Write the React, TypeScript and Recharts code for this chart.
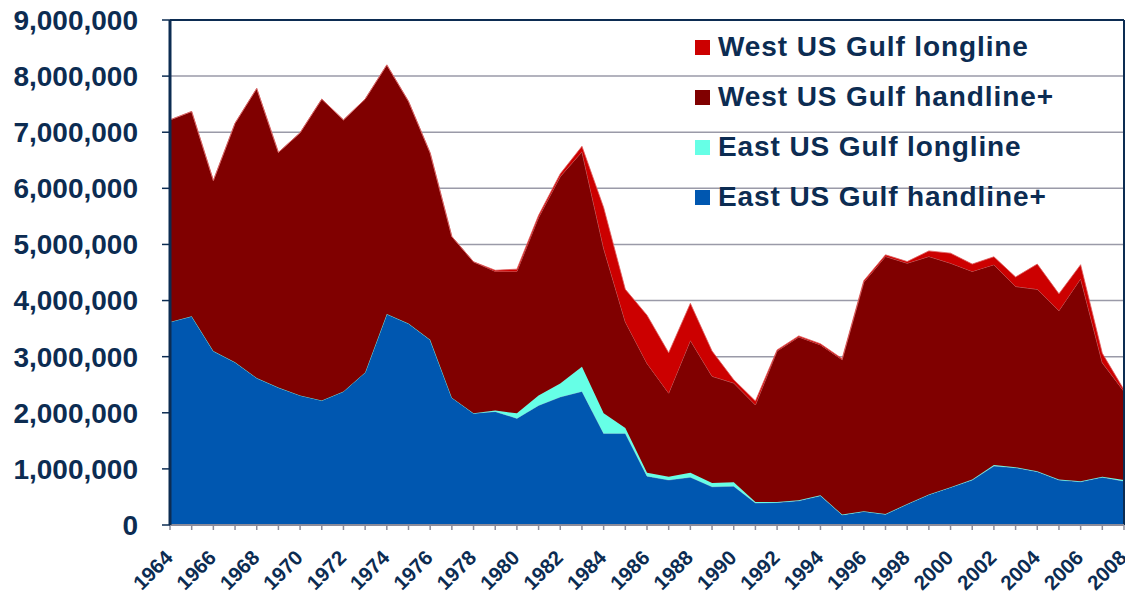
import React from 'react';
import { AreaChart, Area, XAxis, YAxis, CartesianGrid, Legend, ReferenceLine } from 'recharts';

const years = [
  1964, 1965, 1966, 1967, 1968, 1969, 1970, 1971, 1972, 1973, 1974, 1975, 1976, 1977, 1978,
  1979, 1980, 1981, 1982, 1983, 1984, 1985, 1986, 1987, 1988, 1989, 1990, 1991, 1992, 1993,
  1994, 1995, 1996, 1997, 1998, 1999, 2000, 2001, 2002, 2003, 2004, 2005, 2006, 2007, 2008,
];

const eastHandline = [
  3620000, 3720000, 3100000, 2900000, 2620000, 2450000, 2310000, 2220000, 2380000, 2720000,
  3760000, 3590000, 3300000, 2270000, 1990000, 2020000, 1900000, 2130000, 2280000, 2380000,
  1630000, 1630000, 870000, 800000, 850000, 680000, 690000, 390000, 400000, 430000,
  520000, 180000, 240000, 190000, 370000, 540000, 670000, 800000, 1050000, 1020000,
  950000, 800000, 770000, 850000, 780000,
];

const eastLongline = [
  0, 0, 0, 0, 0, 0, 0, 0, 0, 0,
  0, 0, 0, 0, 0, 20000, 90000, 180000, 240000, 440000,
  360000, 100000, 60000, 60000, 80000, 70000, 70000, 20000, 10000, 10000,
  10000, 5000, 5000, 5000, 5000, 5000, 5000, 10000, 20000, 10000,
  10000, 10000, 10000, 10000, 20000,
];

const westHandline = [
  3600000, 3650000, 3040000, 4260000, 5160000, 4190000, 4680000, 5370000, 4840000, 4870000,
  4440000, 3960000, 3330000, 2870000, 2700000, 2480000, 2530000, 3170000, 3690000, 3830000,
  2940000, 1890000, 1950000, 1490000, 2360000, 1900000, 1770000, 1730000, 2690000, 2910000,
  2680000, 2760000, 4080000, 4590000, 4290000, 4240000, 3990000, 3710000, 3570000, 3220000,
  3240000, 3010000, 3610000, 2030000, 1580000,
];

const westLongline = [
  0, 0, 0, 0, 0, 0, 0, 0, 0, 0,
  0, 0, 0, 0, 0, 20000, 40000, 40000, 50000, 100000,
  730000, 580000, 860000, 720000, 660000, 450000, 60000, 70000, 20000, 20000,
  20000, 20000, 30000, 30000, 30000, 100000, 180000, 130000, 140000, 170000,
  450000, 300000, 250000, 170000, 30000,
];

const yTicks = [0, 1000000, 2000000, 3000000, 4000000, 5000000, 6000000, 7000000, 8000000, 9000000];

const seriesNames = [
  'East US Gulf handline+',
  'East US Gulf longline',
  'West US Gulf handline+',
  'West US Gulf longline',
];
const seriesColors = ['#0057b0', '#66ffe6', '#800000', '#cc0000'];
const seriesStrokes = ['#5a7fb8', '#66ffe6', '#c07070', '#e06060'];

const data = years.map((year, i) => ({
  year,
  eh: eastHandline[i],
  el: eastLongline[i],
  wh: westHandline[i],
  wl: westLongline[i],
}));

const NAVY = '#0c2c52';
const FONT = '"Liberation Sans", Arial, sans-serif';

// only even years get a label, every year keeps its tick mark
const YearTick = ({ x, y, payload }: any) => {
  if (payload.value % 2 !== 0) return <g />;
  const tx = x + 4;
  const ty = y + 27;
  return (
    <text
      x={tx}
      y={ty}
      transform={`rotate(-45 ${tx} ${ty})`}
      textAnchor="end"
      fill={NAVY}
      fontSize={20.5}
      fontWeight="bold"
      fontFamily={FONT}
    >
      {payload.value}
    </text>
  );
};

const renderLegend = () => (
  <div style={{ fontFamily: FONT }}>
    {[3, 2, 1, 0].map((i) => (
      <div key={i} style={{ display: 'flex', alignItems: 'center', height: 50 }}>
        <div style={{ width: 15, height: 15, background: seriesColors[i], marginRight: 8 }} />
        <span style={{ fontSize: 28, fontWeight: 'bold', color: NAVY, letterSpacing: 0.9 }}>
          {seriesNames[i]}
        </span>
      </div>
    ))}
  </div>
);

const App = () => {
  const keys = ['eh', 'el', 'wh', 'wl'];
  return (
    <div style={{ marginTop: -8 }}>
      <AreaChart
        width={1125}
        height={596}
        data={data}
        margin={{ top: 20, right: 9, bottom: 6, left: 0 }}
        style={{ fontFamily: FONT }}
      >
        <CartesianGrid vertical={false} stroke="#9a9aa8" strokeWidth={1.5} />
        <XAxis
          dataKey="year"
          interval={0}
          height={65}
          tick={<YearTick />}
          tickSize={5}
          tickMargin={2}
          axisLine={{ stroke: '#8c8c9a', strokeWidth: 2 }}
          tickLine={{ stroke: '#8c8c9a', strokeWidth: 1.5 }}
        />
        <YAxis
          width={162}
          domain={[0, 9000000]}
          ticks={yTicks}
          interval={0}
          tickFormatter={(v: number) => v.toLocaleString('en-US')}
          tick={{ fill: NAVY, fontSize: 28, fontWeight: 'bold', fontFamily: FONT }}
          tickSize={8}
          tickMargin={24}
          axisLine={{ stroke: NAVY, strokeWidth: 3 }}
          tickLine={{ stroke: NAVY, strokeWidth: 1.5 }}
        />
        {keys.map((k, i) => (
          <Area
            key={k}
            type="linear"
            dataKey={k}
            name={seriesNames[i]}
            stackId="1"
            fill={seriesColors[i]}
            fillOpacity={1}
            stroke={seriesStrokes[i]}
            strokeWidth={0.8}
            isAnimationActive={false}
          />
        ))}
        <ReferenceLine y={9000000} stroke={NAVY} strokeWidth={2} />
        <ReferenceLine x={2008} stroke={NAVY} strokeWidth={2} />
        <Legend
          layout="vertical"
          align="center"
          verticalAlign="middle"
          content={renderLegend}
          wrapperStyle={{ position: 'absolute', left: 687, top: 22, width: 440 }}
        />
      </AreaChart>
    </div>
  );
};

export default App;
